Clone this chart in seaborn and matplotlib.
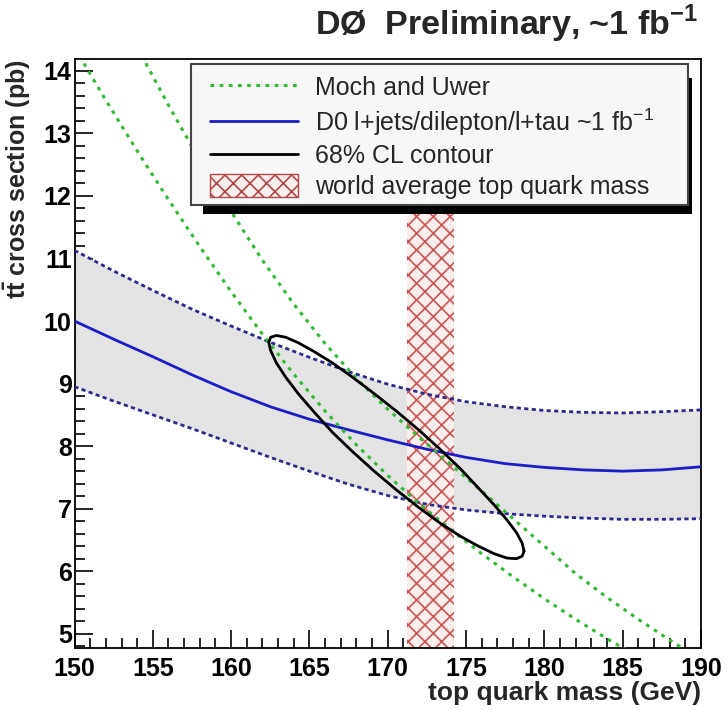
import seaborn as sns
import matplotlib.pyplot as plt
from matplotlib.patches import Rectangle, Patch
from matplotlib.lines import Line2D
from matplotlib.ticker import MultipleLocator

# D0 l+jets/dilepton/l+tau measurement vs assumed top mass
d0_mass = [150, 152.5, 155, 157.5, 160, 162.5, 165, 167.5, 170, 172.5,
           175, 177.5, 180, 182.5, 185, 187.5, 190]
d0_xsec = [10.0, 9.71, 9.43, 9.14, 8.87, 8.63, 8.43, 8.26, 8.10, 7.95,
           7.82, 7.72, 7.66, 7.62, 7.60, 7.62, 7.67]
d0_up = [11.13, 10.80, 10.49, 10.19, 9.92, 9.66, 9.42, 9.19, 8.99, 8.83,
         8.71, 8.63, 8.57, 8.54, 8.53, 8.55, 8.58]
d0_down = [8.95, 8.72, 8.50, 8.28, 8.05, 7.82, 7.60, 7.39, 7.21, 7.07,
           6.98, 6.92, 6.88, 6.85, 6.83, 6.83, 6.84]

# Moch and Uwer theory band (two edges)
moch_lo_mass = [150, 152, 154, 156, 158, 160, 162, 164, 166, 168, 170, 172,
                174, 176, 178, 180, 182, 184, 186]
moch_lo_xsec = [14.37, 13.53, 12.72, 11.94, 11.19, 10.47, 9.79, 9.15, 8.56,
                8.02, 7.53, 7.08, 6.67, 6.28, 5.91, 5.56, 5.23, 4.92, 4.63]
moch_hi_mass = [154, 156, 158, 160, 162, 164, 166, 168, 170, 172, 174, 176,
                178, 180, 182, 184, 186, 188, 190]
moch_hi_xsec = [14.38, 13.45, 12.57, 11.75, 10.97, 10.27, 9.64, 9.08, 8.59,
                8.14, 7.71, 7.28, 6.84, 6.40, 5.96, 5.58, 5.23, 4.90, 4.58]

# 68% CL contour (closed)
cl_mass = [178.70, 178.58, 178.21, 177.61, 176.79, 175.79, 174.63, 173.34,
           171.97, 170.55, 169.13, 167.76, 166.47, 165.31, 164.31, 163.49,
           162.89, 162.52, 162.40, 162.52, 162.89, 163.49, 164.31, 165.31,
           166.47, 167.76, 169.13, 170.55, 171.97, 173.34, 174.63, 175.79,
           176.79, 177.61, 178.21, 178.58, 178.70]
cl_xsec = [6.32, 6.45, 6.62, 6.82, 7.06, 7.33, 7.64, 7.95, 8.26, 8.56, 8.84,
           9.10, 9.33, 9.51, 9.65, 9.74, 9.77, 9.74, 9.66, 9.53, 9.33, 9.10,
           8.83, 8.54, 8.22, 7.91, 7.60, 7.30, 7.02, 6.77, 6.56, 6.40, 6.28,
           6.21, 6.20, 6.24, 6.32]

# world average top mass band (upper end hidden under the legend)
wa_mass = [171.2, 174.2]
wa_top = 12.5

labels = ["Moch and Uwer",
          r"D0 l+jets/dilepton/l+tau ~1 fb$^{-1}$",
          "68% CL contour",
          "world average top quark mass"]

sns.set_theme(style="ticks")
plt.rcParams['font.family'] = ['Liberation Sans', 'DejaVu Sans']
plt.rcParams['mathtext.fontset'] = 'custom'
plt.rcParams['mathtext.rm'] = 'Liberation Sans'
plt.rcParams['mathtext.bf'] = 'Liberation Sans:bold'
plt.rcParams['hatch.linewidth'] = 1.2

green = '#33bb33'
blue = '#1c1cc8'
navy = '#2b2b8c'
hatch_col = '#cc5555'
ylo, yhi = 4.78, 14.19

fig = plt.figure(figsize=(7.27, 7.10), dpi=100)
ax = fig.add_axes([0.1025, 0.088, 0.8618, 0.8289])

ax.fill_between(d0_mass, d0_down, d0_up, color='#e3e3e3', lw=0, zorder=1)
ax.fill_between(wa_mass, ylo, wa_top, facecolor='#fbeeee', edgecolor=hatch_col,
                hatch='xx', lw=0, zorder=2)

dash = (0, (1.5, 1.2))
sns.lineplot(x=d0_mass, y=d0_up, color=navy, lw=2, linestyle=dash, ax=ax, zorder=3)
sns.lineplot(x=d0_mass, y=d0_down, color=navy, lw=2, linestyle=dash, ax=ax, zorder=3)
sns.lineplot(x=d0_mass, y=d0_xsec, color=blue, lw=2, ax=ax, zorder=4)

dots = (0, (1.2, 1.8))
sns.lineplot(x=moch_lo_mass, y=moch_lo_xsec, color=green, lw=2.2, linestyle=dots, ax=ax, zorder=4)
sns.lineplot(x=moch_hi_mass, y=moch_hi_xsec, color=green, lw=2.2, linestyle=dots, ax=ax, zorder=4)

sns.lineplot(x=cl_mass, y=cl_xsec, sort=False, estimator=None, color='black',
             lw=2, ax=ax, zorder=5)

ax.set_xlim(150, 190)
ax.set_ylim(ylo, yhi)
ax.xaxis.set_major_locator(MultipleLocator(5))
ax.xaxis.set_minor_locator(MultipleLocator(1))
ax.yaxis.set_major_locator(MultipleLocator(1))
ax.yaxis.set_minor_locator(MultipleLocator(0.2))
ax.tick_params(which='both', direction='in', top=False, right=False,
               colors='black', width=1.2, labelsize=18)
ax.tick_params(which='major', length=13)
ax.tick_params(which='minor', length=7)
ax.tick_params(axis='y', pad=2)
ax.tick_params(axis='x', pad=7)
plt.setp(ax.get_xticklabels() + ax.get_yticklabels(), fontweight='bold')
for sp in ax.spines.values():
    sp.set_color('black')
    sp.set_linewidth(1.3)

ax.set_xlabel('top quark mass (GeV)', fontsize=19, fontweight='bold', loc='right')
ax.set_ylabel(r'$\mathbf{t\bar{t}}$ cross section (pb)', fontsize=18,
              fontweight='bold', loc='top')
ax.xaxis.set_label_coords(1.0, -0.057)
ax.yaxis.set_label_coords(-0.067, 1.0)

fig.text(698 / 727, 1 - 35 / 710, r'DØ  Preliminary, ~1 fb$^{\mathbf{-1}}$',
         ha='right', va='baseline', fontsize=24.5, fontweight='bold')

# legend box with ROOT-like shadow
ax.add_patch(Rectangle((0.205, 0.7366), 0.7806, 0.231, transform=ax.transAxes,
                       facecolor='black', lw=0, zorder=7))
ax.add_patch(Rectangle((0.186, 0.752), 0.793, 0.2395, transform=ax.transAxes,
                       facecolor='#f7f7f7', edgecolor='#444444', lw=1.5, zorder=8))
handles = [Line2D([], [], color=green, lw=2.2, linestyle=dots),
           Line2D([], [], color=blue, lw=2),
           Line2D([], [], color='black', lw=2),
           Patch(facecolor='#fbeeee', edgecolor='#b04848', hatch='xx', lw=1)]
leg = ax.legend(handles, labels, loc='upper left', bbox_to_anchor=(0.2163, 0.972),
                frameon=False, fontsize=18, handlelength=3.5, handletextpad=0.68,
                labelspacing=0.24, borderpad=0, borderaxespad=0, handleheight=1.0)
leg.set_zorder(9)

fig.savefig('out.png', dpi=100, facecolor='white')
